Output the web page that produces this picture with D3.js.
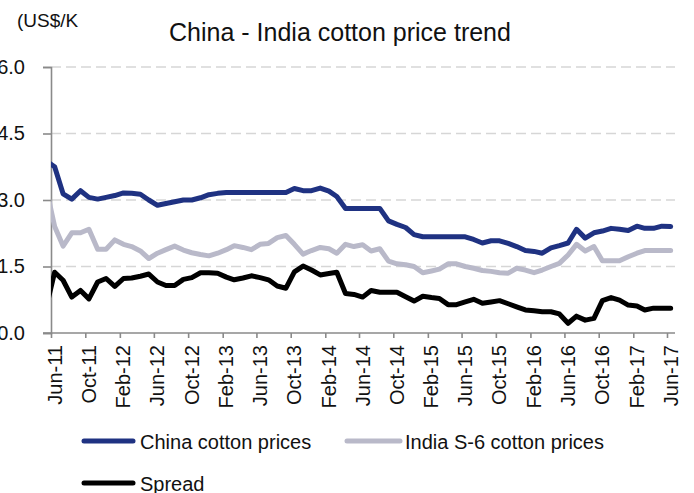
<!DOCTYPE html>
<html>
<head>
<meta charset="utf-8">
<script src="https://cdn.jsdelivr.net/npm/d3@7"></script>
<style>
  body { margin: 0; background: #fff; }
  svg { display: block; font-family: "Liberation Sans", Arial, sans-serif; }
</style>
</head>
<body>
<div id="chart"></div>
<script>
// Monthly observations, May-11 .. Jun-17 (mid-month readings)
const firstMonth = new Date(2011, 4, 1);

const chinaPrices = [3.88, 3.75, 3.14, 3.02, 3.21, 3.06, 3.02, 3.06, 3.10, 3.16,
  3.15, 3.13, 3.00, 2.88, 2.92, 2.96, 3.00, 3.00, 3.05, 3.12,
  3.15, 3.17, 3.17, 3.17, 3.17, 3.17, 3.17, 3.17, 3.17, 3.26,
  3.21, 3.21, 3.27, 3.20, 3.08, 2.81, 2.81, 2.81, 2.81, 2.81,
  2.53, 2.45, 2.38, 2.22, 2.17, 2.17, 2.17, 2.17, 2.17, 2.17,
  2.11, 2.03, 2.08, 2.08, 2.02, 1.95, 1.86, 1.84, 1.80, 1.92,
  1.97, 2.03, 2.34, 2.14, 2.26, 2.30, 2.36, 2.34, 2.31, 2.41,
  2.36, 2.36, 2.41, 2.40];

const indiaPrices = [3.30, 2.40, 1.96, 2.26, 2.26, 2.34, 1.89, 1.89, 2.10, 2.00,
  1.95, 1.85, 1.68, 1.80, 1.88, 1.96, 1.87, 1.81, 1.77, 1.74,
  1.80, 1.88, 1.97, 1.93, 1.88, 2.00, 2.02, 2.15, 2.20, 2.00,
  1.78, 1.86, 1.93, 1.90, 1.80, 2.00, 1.95, 1.99, 1.85, 1.90,
  1.62, 1.56, 1.54, 1.50, 1.36, 1.40, 1.44, 1.56, 1.56, 1.50,
  1.46, 1.41, 1.39, 1.36, 1.35, 1.46, 1.42, 1.36, 1.42, 1.50,
  1.57, 1.76, 2.00, 1.85, 1.95, 1.63, 1.63, 1.63, 1.72, 1.80,
  1.86, 1.86, 1.86, 1.86];

const spread = [0.55, 1.37, 1.19, 0.81, 0.96, 0.77, 1.15, 1.23, 1.05, 1.23,
  1.24, 1.28, 1.33, 1.15, 1.07, 1.07, 1.21, 1.25, 1.36, 1.36,
  1.35, 1.26, 1.20, 1.24, 1.29, 1.25, 1.20, 1.06, 1.01, 1.38,
  1.51, 1.42, 1.31, 1.34, 1.37, 0.89, 0.87, 0.81, 0.96, 0.92,
  0.92, 0.92, 0.82, 0.72, 0.83, 0.80, 0.78, 0.64, 0.64, 0.70,
  0.76, 0.67, 0.70, 0.73, 0.66, 0.59, 0.52, 0.50, 0.48, 0.48,
  0.43, 0.22, 0.38, 0.29, 0.33, 0.73, 0.80, 0.74, 0.63, 0.61,
  0.52, 0.56, 0.56, 0.56];

const seriesNames = ["China cotton prices", "India S-6 cotton prices", "Spread"];
const seriesColours = ["#1f3282", "#b9b9c9", "#000000"];

const xTickLabels = ["Jun-11", "Oct-11", "Feb-12", "Jun-12", "Oct-12", "Feb-13", "Jun-13",
  "Oct-13", "Feb-14", "Jun-14", "Oct-14", "Feb-15", "Jun-15", "Oct-15", "Feb-16",
  "Jun-16", "Oct-16", "Feb-17", "Jun-17"];
const yTicks = [0, 1.5, 3.0, 4.5, 6.0];

const titleText = "China - India cotton price trend";
const yAxisTitle = "(US$/K";

// ---- layout ----
const width = 694, height = 493;
const plot = { left: 51, right: 667, top: 67, bottom: 333, gridEnd: 675 };

const svg = d3.select("#chart").append("svg")
  .attr("width", width)
  .attr("height", height);

const parseTick = d3.timeParse("%b-%y");
const tickDates = xTickLabels.map(parseTick);

const xScale = d3.scaleTime()
  .domain([tickDates[0], tickDates[tickDates.length - 1]])
  .range([plot.left, plot.right]);

const yScale = d3.scaleLinear()
  .domain([0, 6])
  .range([plot.bottom, plot.top]);

const dates = chinaPrices.map((d, i) => d3.timeDay.offset(d3.timeMonth.offset(firstMonth, i), 13));

// gridlines
svg.append("g")
  .selectAll("line")
  .data(yTicks.filter(d => d > 0))
  .join("line")
    .attr("x1", plot.left)
    .attr("x2", plot.gridEnd)
    .attr("y1", d => yScale(d))
    .attr("y2", d => yScale(d))
    .attr("stroke", "#d6d6d6")
    .attr("stroke-width", 1.6)
    .attr("stroke-dasharray", "10,5");

// y axis
const yAxis = d3.axisLeft(yScale)
  .tickValues(yTicks)
  .tickSize(8)
  .tickPadding(18)
  .tickFormat(d3.format(".1f"));

const yAxisG = svg.append("g")
  .attr("transform", `translate(${plot.left},0)`)
  .call(yAxis);
yAxisG.select(".domain").attr("stroke", "#8a8a8a").attr("stroke-width", 1.6);
yAxisG.selectAll(".tick line").attr("stroke", "#8a8a8a").attr("stroke-width", 1.6);
yAxisG.selectAll(".tick text")
  .attr("font-size", 20)
  .attr("font-family", "Liberation Sans, Arial, sans-serif")
  .attr("fill", "#111");

// x axis
const xAxis = d3.axisBottom(xScale)
  .tickValues(tickDates)
  .tickSize(5)
  .tickFormat((d, i) => xTickLabels[i]);

const xAxisG = svg.append("g")
  .attr("transform", `translate(0,${plot.bottom})`)
  .call(xAxis);
xAxisG.select(".domain")
  .attr("d", `M${plot.left - 8},0H${plot.gridEnd}`)
  .attr("stroke", "#8a8a8a").attr("stroke-width", 1.6);
xAxisG.selectAll(".tick line").attr("stroke", "#8a8a8a").attr("stroke-width", 1.6);
xAxisG.selectAll(".tick text")
  .attr("font-size", 20)
  .attr("font-family", "Liberation Sans, Arial, sans-serif")
  .attr("fill", "#111")
  .attr("text-anchor", "end")
  .attr("transform", "rotate(-90)")
  .attr("x", -12)
  .attr("y", 0)
  .attr("dy", "0.5em");

// lines
svg.append("clipPath")
  .attr("id", "plot-clip")
  .append("rect")
    .attr("x", plot.left)
    .attr("y", 0)
    .attr("width", width - plot.left)
    .attr("height", height);

const seriesData = [chinaPrices, indiaPrices, spread];

const line = d3.line()
  .x((d, i) => xScale(dates[i]))
  .y(d => yScale(d));

svg.append("g")
  .attr("clip-path", "url(#plot-clip)")
  .selectAll("path")
  .data(seriesData)
  .join("path")
    .attr("fill", "none")
    .attr("stroke", (d, i) => seriesColours[i])
    .attr("stroke-width", 5)
    .attr("stroke-linejoin", "round")
    .attr("stroke-linecap", "round")
    .attr("d", line);

// title + unit label
svg.append("text")
  .attr("x", 340)
  .attr("y", 41)
  .attr("text-anchor", "middle")
  .attr("font-size", 25)
  .attr("fill", "#111")
  .text(titleText);

svg.append("text")
  .attr("x", 17)
  .attr("y", 27)
  .attr("font-size", 19)
  .attr("fill", "#111")
  .text(yAxisTitle);

// legend
const legendPos = [[82, 441], [345, 441], [82, 483]];
const legend = svg.append("g")
  .selectAll("g")
  .data(seriesNames)
  .join("g")
    .attr("transform", (d, i) => `translate(${legendPos[i][0]},${legendPos[i][1]})`);

legend.append("line")
  .attr("x1", 2)
  .attr("x2", (d, i) => i === 1 ? 55 : 51)
  .attr("stroke", (d, i) => seriesColours[i])
  .attr("stroke-width", 5)
  .attr("stroke-linecap", "round");

legend.append("text")
  .attr("x", (d, i) => i === 1 ? 60 : 58)
  .attr("y", 8)
  .attr("font-size", 20)
  .attr("fill", "#111")
  .text(d => d);
</script>
</body>
</html>
